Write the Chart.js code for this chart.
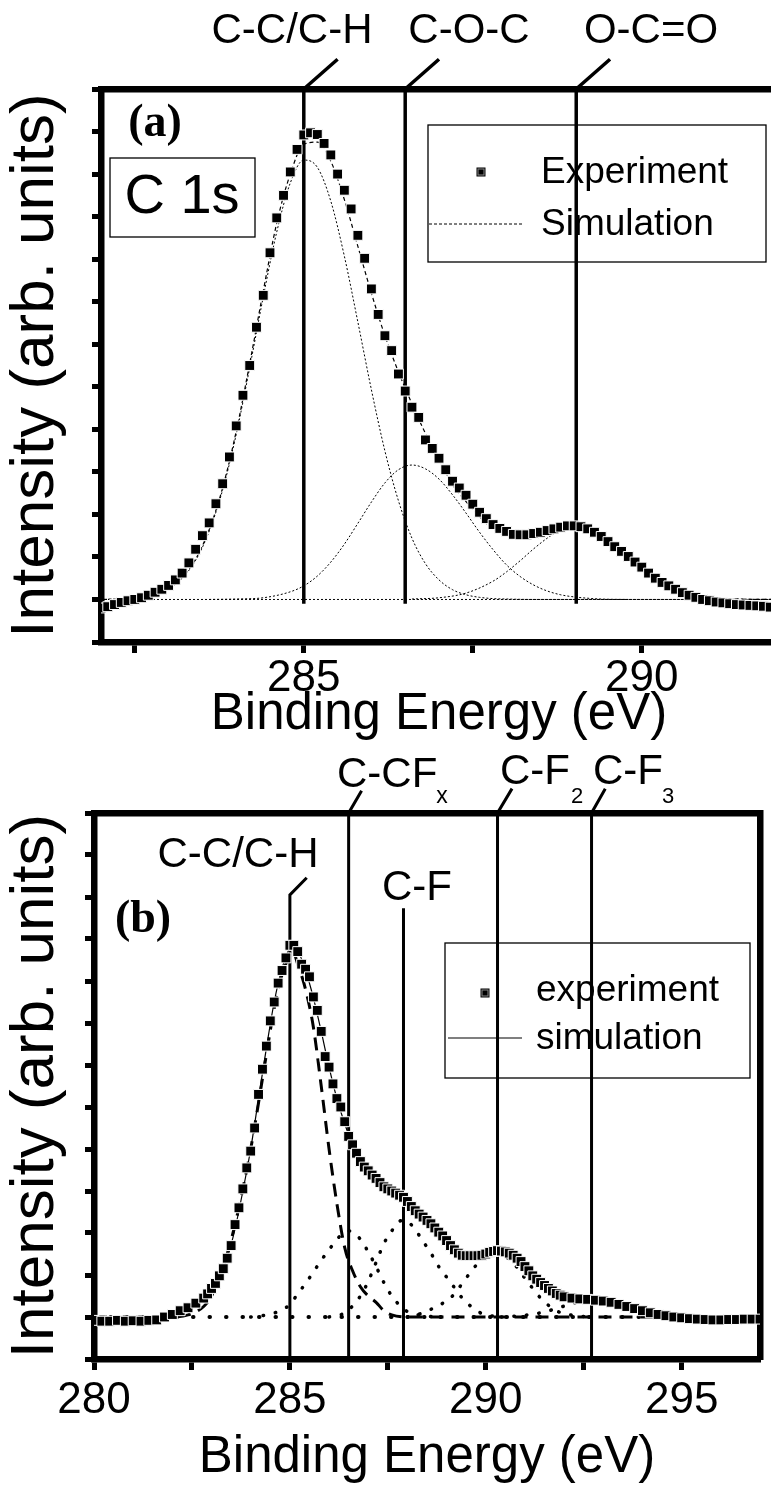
<!DOCTYPE html>
<html>
<head>
<meta charset="utf-8">
<script src="https://cdn.jsdelivr.net/npm/chart.js@4.4.1/dist/chart.umd.min.js"></script>
<style>
  html, body { margin: 0; padding: 0; background: #fff; overflow: hidden; }
  #wrap { position: relative; width: 771px; height: 1486px; overflow: hidden; background: #fff; }
  #topChart { position: absolute; left: 0; top: 0; }
  #botChart { position: absolute; left: 0; top: 740px; }
</style>
</head>
<body>
<div id="wrap">
  <canvas id="topChart" width="785" height="740"></canvas>
  <canvas id="botChart" width="771" height="746"></canvas>
</div>
<script>
// ---------- panel (a): C 1s ----------
let topEnergy = [282.0, 282.1, 282.2, 282.3, 282.4, 282.5, 282.6, 282.7, 282.8, 282.9,
                 283.0, 283.1, 283.2, 283.3, 283.4, 283.5, 283.6, 283.7, 283.8, 283.9,
                 284.0, 284.1, 284.2, 284.3, 284.4, 284.5, 284.6, 284.7, 284.8, 284.9,
                 285.0, 285.1, 285.2, 285.3, 285.4, 285.5, 285.6, 285.7, 285.8, 285.9,
                 286.0, 286.1, 286.2, 286.3, 286.4, 286.5, 286.6, 286.7, 286.8, 286.9,
                 287.0, 287.1, 287.2, 287.3, 287.4, 287.5, 287.6, 287.7, 287.8, 287.9,
                 288.0, 288.1, 288.2, 288.3, 288.4, 288.5, 288.6, 288.7, 288.8, 288.9,
                 289.0, 289.1, 289.2, 289.3, 289.4, 289.5, 289.6, 289.7, 289.8, 289.9,
                 290.0, 290.1, 290.2, 290.3, 290.4, 290.5, 290.6, 290.7, 290.8, 290.9,
                 291.0, 291.1, 291.2, 291.3, 291.4, 291.5, 291.6, 291.7, 291.8, 291.9, 292.0];
let topExperiment = [0.80, 0.83, 0.88, 0.93, 0.97, 1.00, 1.04, 1.10, 1.17, 1.24,
                     1.33, 1.46, 1.62, 1.86, 2.18, 2.50, 2.80, 3.25, 3.72, 4.35,
                     5.08, 5.80, 6.50, 7.40, 8.15, 9.15, 9.97, 10.50, 11.05, 11.58,
                     11.92, 11.97, 11.93, 11.72, 11.45, 11.00, 10.62, 10.18, 9.56, 9.02,
                     8.30, 7.70, 7.20, 6.85, 6.30, 5.90, 5.52, 5.28, 4.75, 4.55,
                     4.32, 4.05, 3.78, 3.62, 3.45, 3.24, 3.05, 2.90, 2.76, 2.67,
                     2.60, 2.53, 2.52, 2.52, 2.55, 2.58, 2.62, 2.66, 2.70, 2.73,
                     2.73, 2.71, 2.66, 2.58, 2.48, 2.36, 2.24, 2.13, 2.01, 1.88,
                     1.76, 1.62, 1.50, 1.40, 1.32, 1.24, 1.16, 1.10, 1.05, 1.00,
                     0.97, 0.94, 0.92, 0.90, 0.88, 0.87, 0.86, 0.85, 0.84, 0.82, 0.81];

let topSimX = [282.0, 282.4, 282.8, 283.0, 283.2, 283.4, 283.6, 283.8, 284.0, 284.2, 284.4, 284.6,
               284.8, 285.0, 285.2, 285.4, 285.6, 285.8, 286.0, 286.2, 286.4, 286.6, 286.8, 287.0,
               287.2, 287.4, 287.6, 287.8, 288.0, 288.2, 288.4, 288.6, 288.8, 289.0, 289.2, 289.4,
               289.6, 289.8, 290.0, 290.2, 290.4, 290.6, 290.8, 291.0, 291.4, 292.0];
let topSimY = [1.00, 1.02, 1.12, 1.26, 1.52, 1.95, 2.64, 3.63, 4.95, 6.55, 8.25, 9.85,
               11.00, 11.70, 11.75, 11.30, 10.40, 9.30, 8.20, 7.20, 6.35, 5.60, 4.90, 4.30,
               3.70, 3.30, 2.95, 2.65, 2.50, 2.46, 2.53, 2.64, 2.75, 2.80, 2.70, 2.54,
               2.27, 1.97, 1.69, 1.45, 1.27, 1.15, 1.08, 1.04, 1.01, 1.00];

let ccTopX = [282.0, 282.4, 282.6, 282.8, 283.0, 283.2, 283.4, 283.6, 283.8, 284.0, 284.2, 284.4,
              284.6, 284.8, 285.0, 285.2, 285.4, 285.6, 285.8, 286.0, 286.2, 286.4, 286.6, 286.8,
              287.0, 287.2, 287.4, 287.6, 287.8, 288.0, 288.4, 292.0];
let ccTopY = [1.00, 1.02, 1.05, 1.11, 1.25, 1.50, 1.92, 2.60, 3.58, 4.88, 6.45, 8.11,
              9.64, 10.79, 11.33, 11.16, 10.36, 9.07, 7.52, 5.93, 4.49, 3.32, 2.44, 1.84,
              1.46, 1.23, 1.11, 1.05, 1.02, 1.01, 1.00, 1.00];
let cocX = [283.6, 284.0, 284.4, 284.8, 285.0, 285.2, 285.4, 285.6, 285.8, 286.0, 286.2, 286.4, 286.6,
            286.8, 287.0, 287.2, 287.4, 287.6, 287.8, 288.0, 288.2, 288.4, 288.6, 288.8, 289.0, 289.4, 289.8];
let cocY = [1.00, 1.01, 1.04, 1.18, 1.32, 1.55, 1.88, 2.30, 2.79, 3.29, 3.74, 4.05, 4.16,
            4.07, 3.83, 3.46, 3.03, 2.58, 2.17, 1.81, 1.54, 1.34, 1.20, 1.11, 1.06, 1.01, 1.00];
let ocoX = [286.6, 287.0, 287.4, 287.8, 288.0, 288.2, 288.4, 288.6, 288.8, 289.05, 289.2, 289.4,
            289.6, 289.8, 290.0, 290.2, 290.4, 290.6, 290.8, 291.0, 291.4, 292.0];
let ocoY = [1.01, 1.04, 1.15, 1.43, 1.65, 1.91, 2.19, 2.44, 2.64, 2.73, 2.69, 2.53,
            2.27, 1.97, 1.69, 1.45, 1.27, 1.15, 1.08, 1.04, 1.01, 1.00];

let topBaseline = 1.0;
let topPeaks = [285.0, 286.5, 289.03];
let topPeakNames = ['C-C/C-H', 'C-O-C', 'O-C=O'];
let topXTicks = [282.5, 285, 287.5, 290];
let topXLabels = [285, 290];

// ---------- panel (b): fluorinated ----------
let botEnergy = [280.0, 280.2, 280.4, 280.6, 280.8, 281.0, 281.2, 281.4, 281.6, 281.8,
                 282.0, 282.2, 282.4, 282.6, 282.8, 282.9, 283.0, 283.1, 283.2, 283.3,
                 283.4, 283.5, 283.6, 283.7, 283.8, 283.9, 284.0, 284.1, 284.2, 284.3,
                 284.4, 284.5, 284.6, 284.7, 284.8, 284.9, 285.0, 285.1, 285.2, 285.3,
                 285.4, 285.5, 285.6, 285.7, 285.8, 285.9, 286.0, 286.1, 286.2, 286.3,
                 286.4, 286.5, 286.6, 286.7, 286.8, 286.9, 287.0, 287.1, 287.2, 287.3,
                 287.4, 287.5, 287.6, 287.7, 287.8, 287.9, 288.0, 288.1, 288.2, 288.3,
                 288.4, 288.5, 288.6, 288.7, 288.8, 288.9, 289.0, 289.1, 289.2, 289.3,
                 289.4, 289.5, 289.6, 289.7, 289.8, 289.9, 290.0, 290.1, 290.2, 290.3,
                 290.4, 290.5, 290.6, 290.7, 290.8, 290.9, 291.0, 291.1, 291.2, 291.3,
                 291.4, 291.5, 291.6, 291.7, 291.8, 291.9, 292.0, 292.2, 292.4, 292.6,
                 292.8, 293.0, 293.2, 293.4, 293.6, 293.8, 294.0, 294.2, 294.4, 294.6,
                 294.8, 295.0, 295.2, 295.4, 295.6, 295.8, 296.0, 296.2, 296.4, 296.6,
                 296.8, 297.0];
let botExperiment = [0.92, 0.90, 0.90, 0.92, 0.90, 0.91, 0.90, 0.92, 0.93, 1.00,
                     1.06, 1.15, 1.22, 1.33, 1.45, 1.55, 1.68, 1.80, 1.98, 2.15,
                     2.40, 2.70, 3.20, 3.60, 4.05, 4.55, 4.95, 5.50, 6.30, 6.90,
                     7.45, 8.05, 8.50, 8.95, 9.25, 9.55, 9.85, 9.85, 9.70, 9.40,
                     9.28, 9.10, 8.62, 8.30, 7.80, 7.20, 6.95, 6.55, 6.20, 6.00,
                     5.65, 5.30, 5.10, 4.90, 4.70, 4.57, 4.48, 4.38, 4.30, 4.20,
                     4.10, 4.05, 4.00, 3.95, 3.90, 3.85, 3.75, 3.63, 3.53, 3.45,
                     3.38, 3.30, 3.22, 3.12, 3.02, 2.93, 2.82, 2.70, 2.60, 2.52,
                     2.47, 2.46, 2.46, 2.46, 2.46, 2.47, 2.50, 2.54, 2.56, 2.58,
                     2.57, 2.55, 2.52, 2.47, 2.40, 2.32, 2.20, 2.10, 1.98, 1.90,
                     1.82, 1.75, 1.68, 1.62, 1.56, 1.52, 1.48, 1.45, 1.43, 1.42,
                     1.40, 1.38, 1.35, 1.30, 1.25, 1.20, 1.15, 1.10, 1.06, 1.03,
                     1.00, 0.98, 0.96, 0.95, 0.94, 0.93, 0.93, 0.94, 0.94, 0.95,
                     0.95, 0.95];

let botSimX = [280.0, 281.6, 282.0, 282.4, 282.8, 283.0, 283.2, 283.4, 283.6, 283.8, 284.0, 284.2,
               284.4, 284.6, 284.8, 285.0, 285.2, 285.4, 285.6, 285.8, 286.0, 286.2, 286.4, 286.6,
               286.8, 287.0, 287.2, 287.4, 287.6, 287.8, 288.0, 288.2, 288.4, 288.6, 288.8, 289.0,
               289.2, 289.4, 289.6, 289.8, 290.0, 290.2, 290.4, 290.6, 290.8, 291.0, 291.2, 291.4,
               291.6, 291.8, 292.0, 292.4, 292.8, 293.2, 293.6, 294.0, 294.4, 294.8, 295.2, 297.0];
let botSimY = [1.00, 1.00, 1.05, 1.20, 1.45, 1.65, 1.95, 2.40, 3.10, 4.00, 5.00, 6.20,
               7.40, 8.50, 9.30, 9.75, 9.70, 9.25, 8.60, 7.80, 6.95, 6.20, 5.60, 5.10,
               4.72, 4.47, 4.30, 4.12, 4.00, 3.90, 3.75, 3.53, 3.38, 3.22, 3.02, 2.82,
               2.62, 2.50, 2.47, 2.47, 2.50, 2.55, 2.56, 2.50, 2.38, 2.20, 2.00, 1.83,
               1.68, 1.57, 1.50, 1.44, 1.40, 1.34, 1.24, 1.15, 1.07, 1.02, 1.00, 1.00];

let ccBotX = [280.0, 282.0, 282.4, 282.8, 283.0, 283.2, 283.4, 283.6, 283.8, 284.0, 284.2, 284.4,
              284.6, 284.8, 285.0, 285.1, 285.2, 285.4, 285.6, 285.8, 286.0, 286.2, 286.4, 286.6,
              286.8, 287.0, 287.2, 287.4, 287.6, 288.0, 297.0];
let ccBotY = [1.00, 1.00, 1.05, 1.25, 1.50, 1.95, 2.50, 3.20, 4.05, 5.00, 6.10, 7.25,
              8.35, 9.15, 9.60, 9.65, 9.40, 8.80, 7.90, 6.50, 5.00, 3.70, 2.65, 2.10,
              1.72, 1.50, 1.35, 1.15, 1.05, 1.00, 1.00];
let ccfxX = [284.0, 284.4, 284.8, 285.0, 285.2, 285.4, 285.6, 285.8, 286.0, 286.2, 286.4, 286.5,
             286.6, 286.8, 287.0, 287.2, 287.4, 287.6, 287.8, 288.0, 288.4, 288.8];
let ccfxY = [1.00, 1.05, 1.17, 1.30, 1.55, 1.80, 2.07, 2.35, 2.60, 2.85, 3.02, 3.05,
             3.02, 2.85, 2.55, 2.20, 1.82, 1.50, 1.28, 1.13, 1.03, 1.00];
let cfX = [286.0, 286.4, 286.8, 287.0, 287.2, 287.4, 287.6, 287.8, 287.9, 288.0, 288.2, 288.4,
           288.6, 288.8, 289.0, 289.2, 289.4, 289.6, 289.8, 290.0, 290.4];
let cfY = [1.00, 1.10, 1.50, 1.85, 2.30, 2.75, 3.05, 3.28, 3.30, 3.28, 3.08, 2.80,
           2.52, 2.20, 1.95, 1.70, 1.45, 1.27, 1.13, 1.05, 1.00];
let cf2X = [288.0, 288.4, 288.8, 289.0, 289.2, 289.4, 289.6, 289.8, 290.0, 290.2, 290.3, 290.4,
            290.6, 290.8, 291.0, 291.2, 291.4, 291.6, 291.8, 292.0, 292.4, 292.8];
let cf2Y = [1.00, 1.10, 1.28, 1.38, 1.55, 1.80, 2.05, 2.28, 2.43, 2.50, 2.50, 2.48,
            2.38, 2.18, 1.92, 1.68, 1.45, 1.28, 1.15, 1.08, 1.02, 1.00];
let cf3X = [290.4, 291.0, 291.4, 291.8, 292.2, 292.5, 292.7, 292.9, 293.2, 293.6, 294.0, 294.4, 294.8, 295.2];
let cf3Y = [1.00, 1.04, 1.10, 1.20, 1.32, 1.38, 1.40, 1.39, 1.33, 1.22, 1.12, 1.05, 1.01, 1.00];

let botBaseline = 1.0;
let botPeaks = [285.0, 286.5, 287.9, 290.3, 292.7];
let botXTicks = [280, 282.5, 285, 287.5, 290, 292.5, 295];
let botXLabels = [280, 285, 290, 295];
let yTicks = [0, 1, 2, 3, 4, 5, 6, 7, 8, 9, 10, 11, 12, 13];

const SANS = "'Liberation Sans', Arial, Helvetica, sans-serif";
const SERIF = "'Liberation Serif', 'Times New Roman', serif";

function pts(xs, ys) {
    return xs.map((x, i) => ({x: x, y: ys[i]}));
}

// peak marker: from the bottom value up, then a short slanted leader
function peakLine(x, yLow, yHigh, lead) {
    let d = [{x: x, y: yLow}, {x: x, y: yHigh}];
    if (lead) d.push({x: x + lead[0], y: yHigh + lead[1]});
    return d;
}

let decorPlugin = {
    id: 'decor',
    afterDraw(chart, args, opts) {
        let ctx = chart.ctx;
        ctx.save();
        ctx.fillStyle = '#000';
        ctx.strokeStyle = '#000';
        (opts.boxes || []).forEach(b => {
            ctx.lineWidth = 1.3;
            ctx.strokeRect(b[0], b[1], b[2], b[3]);
        });
        (opts.texts || []).forEach(t => {
            ctx.font = (t.bold ? 'bold ' : '') + t.size + 'px ' + (t.serif ? SERIF : SANS);
            ctx.textAlign = t.align || 'center';
            ctx.textBaseline = 'middle';
            ctx.fillText(t.text, t.x, t.y);
        });
        let lg = opts.legend;
        if (lg) {
            ctx.lineWidth = 1.3;
            ctx.strokeRect(lg.box[0], lg.box[1], lg.box[2], lg.box[3]);
            ctx.fillStyle = '#000';
            ctx.fillRect(lg.marker[0] - 4.5, lg.marker[1] - 4.5, 9, 9);
            ctx.strokeStyle = '#888';
            ctx.lineWidth = 1;
            ctx.strokeRect(lg.marker[0] - 3, lg.marker[1] - 3, 6, 6);
            ctx.strokeStyle = '#000';
            ctx.lineWidth = lg.lineWidth;
            ctx.setLineDash(lg.dash);
            ctx.beginPath();
            ctx.moveTo(lg.line[0], lg.line[2]);
            ctx.lineTo(lg.line[1], lg.line[2]);
            ctx.stroke();
            ctx.setLineDash([]);
            ctx.font = lg.size + 'px ' + SANS;
            ctx.textAlign = 'left';
            ctx.textBaseline = 'middle';
            lg.labels.forEach(l => ctx.fillText(l[0], l[1], l[2]));
        }
        ctx.restore();
    }
};

function frameAxes(xMin, xMax, xTicks, xLabels, left, right, top, bottom, canvasW, canvasH, xt) {
    return {
        x: {
            type: 'linear', position: 'bottom', min: xMin, max: xMax,
            afterBuildTicks: s => { s.ticks = xTicks.map(v => ({value: v})); },
            afterFit: s => { s.height = canvasH - bottom; },
            ticks: {
                color: '#000', padding: xt.tickPad,
                font: {family: SANS, size: 44, lineHeight: 1},
                callback: v => xLabels.includes(v) ? String(v) : ''
            },
            grid: { drawOnChartArea: false, drawTicks: true, tickLength: 11, tickWidth: 5, tickColor: '#000' },
            border: { display: true, width: 6.5, color: '#000' },
            title: {
                display: true, text: 'Binding Energy (eV)', color: '#000',
                font: {family: SANS, size: 51, lineHeight: 1},
                padding: {top: 0, bottom: xt.titlePad}
            }
        },
        x2: {
            type: 'linear', position: 'top', min: xMin, max: xMax,
            afterFit: s => { s.height = top; },
            ticks: { display: false },
            grid: { drawOnChartArea: false, drawTicks: false },
            border: { display: true, width: 6.5, color: '#000' }
        },
        y: {
            type: 'linear', position: 'left', min: 0, max: 13,
            afterBuildTicks: s => { s.ticks = yTicks.map(v => ({value: v})); },
            afterFit: s => { s.width = left; },
            ticks: { display: false },
            grid: { drawOnChartArea: false, drawTicks: true, tickLength: 9, tickWidth: 5, tickColor: '#000' },
            border: { display: true, width: 6.5, color: '#000' },
            title: {
                display: true, text: 'Intensity (arb. units)', color: '#000',
                font: {family: SANS, size: 62, lineHeight: 1},
                padding: {top: 5, bottom: 0}
            }
        },
        y2: {
            type: 'linear', position: 'right', min: 0, max: 13,
            afterFit: s => { s.width = canvasW - right; },
            ticks: { display: false },
            grid: { drawOnChartArea: false, drawTicks: false },
            border: { display: true, width: 6.5, color: '#000' }
        }
    };
}

let expStyle = {
    showLine: false, pointStyle: 'rect', pointRadius: 7,
    pointBackgroundColor: '#000', pointBorderColor: '#fff', pointBorderWidth: 1
};
let lineStyle = { showLine: true, pointRadius: 0, fill: false, cubicInterpolationMode: 'monotone' };

// ---------- chart (a) ----------
let topCtx = document.getElementById('topChart').getContext('2d');
let topChart = new Chart(topCtx, {
    type: 'scatter',
    data: {
        datasets: [
            Object.assign({ label: 'Experiment', data: pts(topEnergy, topExperiment) }, expStyle),
            Object.assign({ label: 'Simulation', data: pts(topSimX, topSimY),
                borderColor: '#000', borderWidth: 1.2, borderDash: [4, 3] }, lineStyle),
            Object.assign({ label: 'C-C/C-H', data: pts(ccTopX, ccTopY),
                borderColor: '#000', borderWidth: 1, borderDash: [2, 2] }, lineStyle),
            Object.assign({ label: 'C-O-C', data: pts(cocX, cocY),
                borderColor: '#000', borderWidth: 1, borderDash: [2, 2] }, lineStyle),
            Object.assign({ label: 'O-C=O', data: pts(ocoX, ocoY),
                borderColor: '#000', borderWidth: 1, borderDash: [2, 2] }, lineStyle),
            Object.assign({ label: 'baseline', data: [{x: 282, y: topBaseline}, {x: 292, y: topBaseline}],
                borderColor: '#000', borderWidth: 1, borderDash: [2, 2] }, lineStyle),
            ...topPeaks.map((p, i) => ({
                label: topPeakNames[i], data: peakLine(p, 0.9, 13, [0.5, 0.7]),
                showLine: true, pointRadius: 0, borderColor: '#000', borderWidth: 3.5, clip: false
            }))
        ]
    },
    options: {
        responsive: false, animation: false, devicePixelRatio: 1, events: [],
        layout: { padding: 0 },
        scales: frameAxes(282, 292, topXTicks, topXLabels, 101, 778, 89, 642, 785, 740,
                          {tickPad: 4, titlePad: 0}),
        plugins: {
            legend: { display: false }, tooltip: { enabled: false },
            decor: {
                texts: [
                    {text: 'C-C/C-H', x: 292, y: 31, size: 42},
                    {text: 'C-O-C', x: 469, y: 31, size: 42},
                    {text: 'O-C=O', x: 651, y: 31, size: 42},
                    {text: '(a)', x: 155, y: 124, size: 46, serif: true, bold: true},
                    {text: 'C 1s', x: 182, y: 198, size: 56}
                ],
                boxes: [[110, 158, 145, 79]],
                legend: {
                    box: [428, 125, 338, 137], marker: [481, 172],
                    line: [429, 524, 224], dash: [3, 2], lineWidth: 1, size: 37,
                    labels: [['Experiment', 541, 173], ['Simulation', 541, 225]]
                }
            }
        }
    },
    plugins: [decorPlugin]
});

// ---------- chart (b) ----------
let dotted = { borderColor: '#000', borderWidth: 3.5, borderDash: [0.5, 12], borderCapStyle: 'round' };
let botCtx = document.getElementById('botChart').getContext('2d');
let botChart = new Chart(botCtx, {
    type: 'scatter',
    data: {
        datasets: [
            Object.assign({ label: 'experiment', data: pts(botEnergy, botExperiment) }, expStyle),
            Object.assign({ label: 'simulation', data: pts(botSimX, botSimY),
                borderColor: '#000', borderWidth: 1.2 }, lineStyle),
            Object.assign({ label: 'C-C/C-H', data: pts(ccBotX, ccBotY),
                borderColor: '#000', borderWidth: 3, borderDash: [13, 8] }, lineStyle),
            Object.assign({ label: 'C-CFx', data: pts(ccfxX, ccfxY) }, dotted, lineStyle),
            Object.assign({ label: 'C-F', data: pts(cfX, cfY) }, dotted, lineStyle),
            Object.assign({ label: 'C-F2', data: pts(cf2X, cf2Y) }, dotted, lineStyle),
            Object.assign({ label: 'C-F3', data: pts(cf3X, cf3Y) }, dotted, lineStyle),
            Object.assign({ label: 'baseline', data: [{x: 280, y: botBaseline}, {x: 297, y: botBaseline}] },
                dotted, lineStyle, {borderDash: [0.5, 16], borderWidth: 4}),
            { label: 'C-C/C-H line', data: peakLine(botPeaks[0], 0, 11.05, [0.43, 0.41]),
              showLine: true, pointRadius: 0, borderColor: '#000', borderWidth: 3, clip: false },
            { label: 'C-CFx line', data: peakLine(botPeaks[1], 0, 13, [0.33, 0.53]),
              showLine: true, pointRadius: 0, borderColor: '#000', borderWidth: 3, clip: false },
            { label: 'C-F line', data: peakLine(botPeaks[2], 0, 10.73, null),
              showLine: true, pointRadius: 0, borderColor: '#000', borderWidth: 3, clip: false },
            { label: 'C-F2 line', data: peakLine(botPeaks[3], 0, 13, [0.37, 0.58]),
              showLine: true, pointRadius: 0, borderColor: '#000', borderWidth: 3, clip: false },
            { label: 'C-F3 line', data: peakLine(botPeaks[4], 0, 13, [0.35, 0.58]),
              showLine: true, pointRadius: 0, borderColor: '#000', borderWidth: 3, clip: false }
        ]
    },
    options: {
        responsive: false, animation: false, devicePixelRatio: 1, events: [],
        layout: { padding: 0 },
        scales: frameAxes(280, 297, botXTicks, botXLabels, 94, 760, 73, 619, 771, 746,
                          {tickPad: 9, titlePad: 3}),
        plugins: {
            legend: { display: false }, tooltip: { enabled: false },
            decor: {
                texts: [
                    {text: 'C-C/C-H', x: 238, y: 115, size: 42},
                    {text: 'C-F', x: 417, y: 148, size: 42},
                    {text: 'C-CF', x: 337, y: 35, size: 42, align: 'left'},
                    {text: 'x', x: 442, y: 57, size: 23},
                    {text: 'C-F', x: 500, y: 32, size: 42, align: 'left'},
                    {text: '2', x: 577, y: 57, size: 22},
                    {text: 'C-F', x: 593, y: 32, size: 42, align: 'left'},
                    {text: '3', x: 668, y: 57, size: 22},
                    {text: '(b)', x: 143, y: 180, size: 46, serif: true, bold: true}
                ],
                legend: {
                    box: [445, 203, 305, 135], marker: [485, 253],
                    line: [448, 522, 298], dash: [], lineWidth: 1.2, size: 37,
                    labels: [['experiment', 536, 251], ['simulation', 536, 299]]
                }
            }
        }
    },
    plugins: [decorPlugin]
});
</script>
</body>
</html>
